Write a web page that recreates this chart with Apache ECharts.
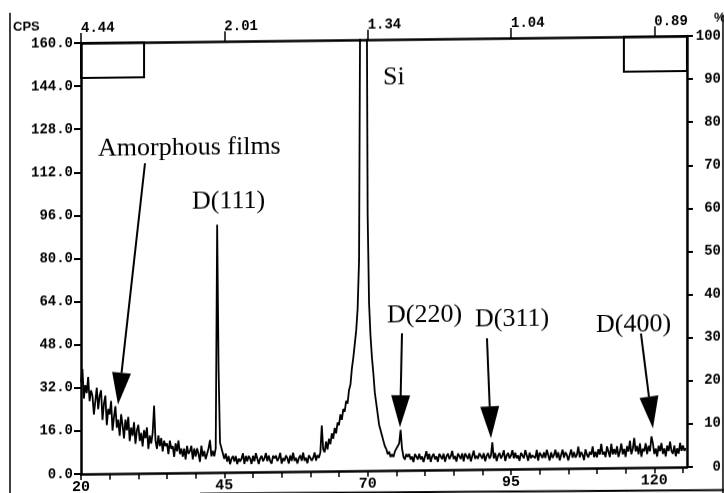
<!DOCTYPE html>
<html><head><meta charset="utf-8">
<script src="https://cdn.jsdelivr.net/npm/echarts@6/dist/echarts.min.js"></script>
<style>
html,body{margin:0;padding:0;background:#fff;overflow:hidden;width:724px;height:493px;}
#chart{position:absolute;left:0;top:0;width:724px;height:505px;transform:skewY(-0.662deg);transform-origin:81px 0;}
</style></head><body><div id="chart"></div>
<script>
// 2-theta grid of the scan
const angleStart = 20;
const angleStep = 0.25;
// counts per second (one row = one degree, 4 samples)
const cps = [
34,39,28,33, 30,36,27,31, 29,22,27,32, 24,29,31,20, 26,29,18,24,
22,27,16,21, 25,17,20,14, 22,18,13,20, 16,21,12,17, 14,19,11,16,
18,12,15,10, 16,13,17,9, 14,11,15,25, 12,9,14,10, 13,8,12,10,
11,7,12,9, 10,6,11,8, 12,7,9,6, 9,5,10,7, 8,10,5,9,
6,9,7,4, 10,6,8,5, 7,9,12,6, 8,6,9,92, 38,11,9,7,
5,7,4,6, 3,5,6,4, 6,3,5,4, 5,7,3,6, 4,6,5,3,
6,4,7,5, 3,5,6,4, 5,7,4,6, 4,3,6,5, 6,4,5,7,
3,5,4,6, 5,3,6,4, 7,4,5,3, 5,6,4,7, 4,5,3,6,
6,4,5,7, 4,6,5,7, 17,8,7,11, 8,12,10,14, 12,16,14,18,
17,21,19,23, 22,26,25,30, 32,38,42,47, 52,60,78,200, 260,280,270,230,
95,62,50,42, 36,29,25,21, 17,15,13,11, 9,8,6,7, 5,6,5,7,
8,9,10,15, 8,5,4,6, 5,6,4,5, 3,6,5,4, 6,4,5,3,
5,7,4,6, 3,5,6,4, 5,3,6,5, 4,6,3,5, 6,4,5,7,
4,5,3,6, 5,4,6,3, 6,5,4,6, 3,5,7,4, 5,4,6,5,
4,6,3,5, 6,4,5,10, 4,6,3,5, 6,4,5,7, 3,5,6,4,
5,7,4,6, 4,5,3,6, 6,4,7,5, 3,6,4,5, 5,4,7,3,
6,5,4,6, 4,7,5,3, 6,4,5,7, 4,6,3,5, 7,4,6,5,
3,5,7,4, 6,4,5,8, 4,6,5,3, 7,5,4,6, 5,8,4,6,
4,7,5,9, 5,6,4,8, 6,4,9,5, 7,5,8,4, 6,9,5,7,
4,8,6,10, 5,7,11,6, 8,5,9,4, 7,6,9,5, 8,6,11.5,9,
5,7,4,8, 6,9,5,7, 4,8,6,9.5, 6,5,8,4, 7,5,9,6,
8,6,7
];
const bottomTicks = [20,25,30,35,40,45,50,55,60,65,70,75,80,85,90,95,100,105,110,115,120,125];
const bottomLabels = [20,45,70,95,120];
const topLabelValues = [20,45,70,95,120];
const topLabels = ['4.44','2.01','1.34','1.04','0.89'];
// the two open boxes at the top corners (2theta from/to, CPS from/to)
const boxes = [[20,31,147,160],[114.7,125.7,147,160]];

const notes = [
  {text:'Amorphous films', x:98, y:149},
  {text:'D(111)', x:192, y:203},
  {text:'Si', x:383, y:81},
  {text:'D(220)', x:387, y:319},
  {text:'D(311)', x:475, y:324},
  {text:'D(400)', x:596, y:331}
];
const arrows = [
  [145,164,118,405],
  [402,337,400,431],
  [487,343,491,443],
  [641,340,653,435]
];

const chart = echarts.init(document.getElementById('chart'));
const seriesData = cps.map((v,i)=>[angleStart+i*angleStep, v]);
const mono = 'Liberation Mono';
const axisLineStyle = {color:'#000', width:2.5};

const graphics = [];
notes.forEach(n=>graphics.push({type:'text', x:n.x, y:n.y, style:{text:n.text, fill:'#000', font:'26px "Liberation Serif"', align:'left', verticalAlign:'middle'}}));
arrows.forEach(a=>{
  const [sx,sy,tx,ty]=a; const L=32, W=19;
  const dx=tx-sx, dy=ty-sy, len=Math.hypot(dx,dy), ux=dx/len, uy=dy/len;
  const bx=tx-ux*L, by=ty-uy*L, px=-uy, py=ux;
  graphics.push({type:'line', shape:{x1:sx,y1:sy,x2:bx,y2:by}, style:{stroke:'#000', lineWidth:2}});
  graphics.push({type:'polygon', shape:{points:[[tx,ty],[bx+px*W/2,by+py*W/2],[bx-px*W/2,by-py*W/2]]}, style:{fill:'#000'}});
});
graphics.push({type:'text', x:13, y:26, style:{text:'CPS', fill:'#000', font:'bold 13px "Liberation Sans"', align:'left', verticalAlign:'middle'}});
graphics.push({type:'text', x:714, y:25, style:{text:'%', fill:'#000', font:'bold 13px "Liberation Sans"', align:'left', verticalAlign:'middle'}});
graphics.push({type:'line', shape:{x1:10,y1:12,x2:10,y2:505}, style:{stroke:'#000', lineWidth:1.5}});
graphics.push({type:'line', shape:{x1:723,y1:22,x2:723,y2:505}, style:{stroke:'#000', lineWidth:1.5}});
graphics.push({type:'line', shape:{x1:200,y1:495,x2:724,y2:497.5}, style:{stroke:'#000', lineWidth:2}});

chart.setOption({
  animation:false,
  backgroundColor:'#fff',
  grid:{left:81, right:37, top:43, bottom:31, containLabel:false},
  xAxis:[
    {type:'value', position:'bottom', min:20, max:125.7,
     axisLine:{onZero:false, lineStyle:axisLineStyle},
     axisTick:{show:true, customValues:bottomTicks, length:6, lineStyle:{color:'#000', width:1.5}},
     axisLabel:{customValues:bottomLabels, color:'#000', fontFamily:mono, fontWeight:'bold', fontSize:15, margin:6},
     splitLine:{show:false}},
    {type:'value', position:'top', min:20, max:125.7,
     axisLine:{onZero:false, lineStyle:axisLineStyle},
     axisTick:{show:true, customValues:topLabelValues, length:10, lineStyle:{color:'#000', width:1.5}},
     axisLabel:{customValues:topLabelValues, formatter:v=>topLabels[topLabelValues.indexOf(v)], align:'left', color:'#000', fontFamily:mono, fontWeight:'bold', fontSize:14, margin:8},
     splitLine:{show:false}}
  ],
  yAxis:[
    {type:'value', position:'left', min:0, max:160, interval:16,
     axisLine:{show:true, onZero:false, lineStyle:axisLineStyle},
     axisTick:{show:true, length:7, lineStyle:{color:'#000', width:2}},
     axisLabel:{formatter:v=>v.toFixed(1), color:'#000', fontFamily:mono, fontWeight:'bold', fontSize:14, margin:8},
     splitLine:{show:false}},
    {type:'value', position:'right', min:0, max:100, interval:10,
     axisLine:{show:true, onZero:false, lineStyle:axisLineStyle},
     axisTick:{show:true, length:6, lineStyle:{color:'#000', width:2}},
     axisLabel:{color:'#000', fontFamily:mono, fontWeight:'bold', fontSize:14, margin:34, align:'right'},
     splitLine:{show:false}}
  ],
  series:[{
    type:'line', xAxisIndex:0, yAxisIndex:0, data:seriesData, showSymbol:false, symbol:'none',
    lineStyle:{color:'#000', width:1.8}, clip:true, silent:true,
    markArea:{silent:true, itemStyle:{color:'rgba(0,0,0,0)', borderColor:'#000', borderWidth:2},
      data:boxes.map(b=>[{xAxis:b[0], yAxis:b[2]},{xAxis:b[1], yAxis:b[3]}])}
  }],
  graphic:graphics
});
</script></body></html>
